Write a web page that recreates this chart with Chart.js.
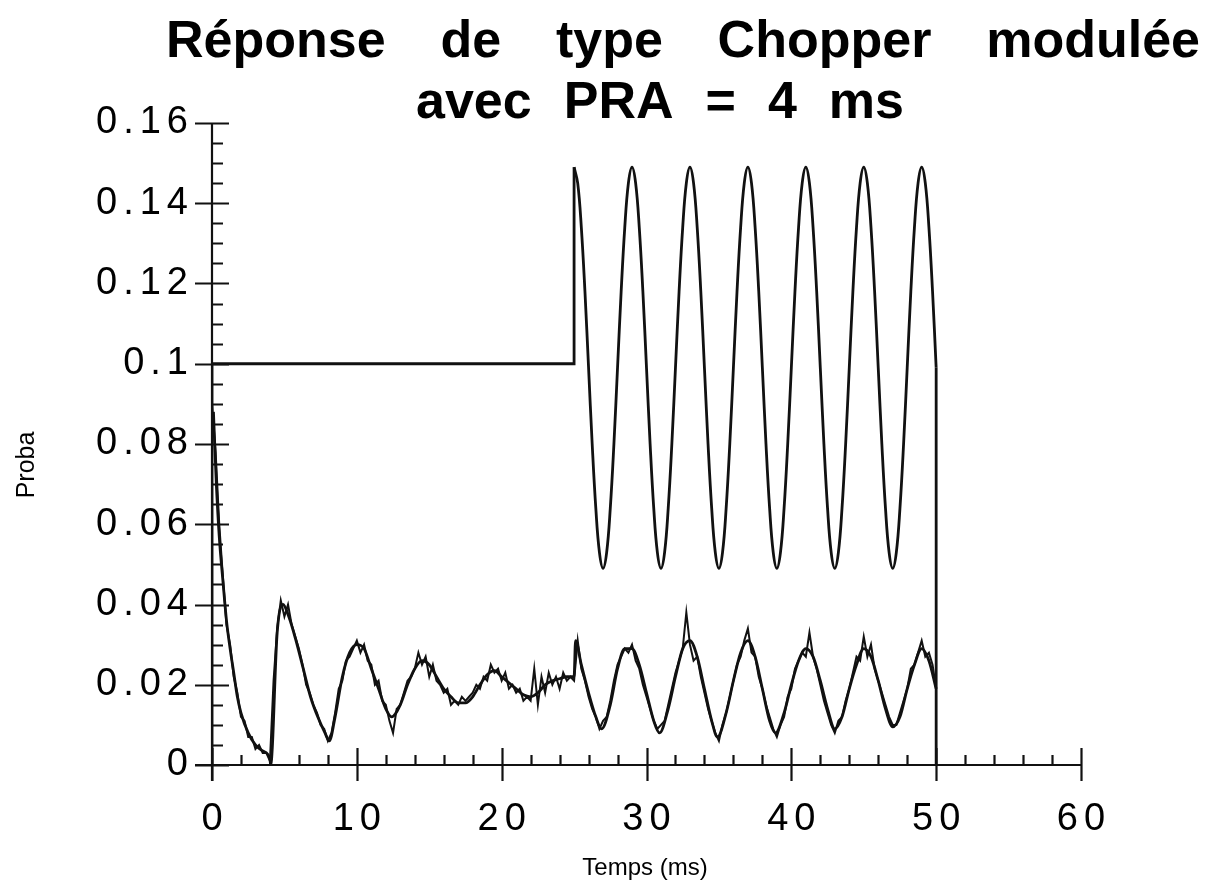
<!DOCTYPE html>
<html>
<head>
<meta charset="utf-8">
<script src="https://cdn.jsdelivr.net/npm/chart.js@4.4.1/dist/chart.umd.min.js"></script>
<style>
  body { margin: 0; background: #fff; }
  canvas { display: block; }
</style>
</head>
<body>
<canvas id="chopperChart" width="1219" height="895"></canvas>
<script>
// Titles
const titleLine1 = ['Réponse', 'de', 'type', 'Chopper', 'modulée'];
const titleLine2 = ['avec', 'PRA', '=', '4', 'ms'];
const xTitle = 'Temps (ms)';
const yTitle = 'Proba';

// Axis ranges / ticks
const xRange = [0, 60];
const yRange = [0, 0.16];
const xMajorStep = 10;
const xMinorStep = 2;
const yMajorStep = 0.02;
const yMinorStep = 0.005;

// Stimulus: flat at 0.1 up to 25 ms, then modulated (PRA = 4 ms) up to 50 ms
const stimStepTimes = [0, 0, 25, 25];
const stimStepValues = [0, 0.1, 0.1, 0.149];
const stimSampleStart = 25;
const stimSampleStep = 0.25;
const stimValues = [
  0.149, 0.145, 0.134, 0.118, 0.099, 0.080, 0.064, 0.053, 0.049, 0.053, 0.064, 0.080, 0.099, 0.118, 0.134, 0.145,
  0.149, 0.145, 0.134, 0.118, 0.099, 0.080, 0.064, 0.053, 0.049, 0.053, 0.064, 0.080, 0.099, 0.118, 0.134, 0.145,
  0.149, 0.145, 0.134, 0.118, 0.099, 0.080, 0.064, 0.053, 0.049, 0.053, 0.064, 0.080, 0.099, 0.118, 0.134, 0.145,
  0.149, 0.145, 0.134, 0.118, 0.099, 0.080, 0.064, 0.053, 0.049, 0.053, 0.064, 0.080, 0.099, 0.118, 0.134, 0.145,
  0.149, 0.145, 0.134, 0.118, 0.099, 0.080, 0.064, 0.053, 0.049, 0.053, 0.064, 0.080, 0.099, 0.118, 0.134, 0.145,
  0.149, 0.145, 0.134, 0.118, 0.099, 0.080, 0.064, 0.053, 0.049, 0.053, 0.064, 0.080, 0.099, 0.118, 0.134, 0.145,
  0.149, 0.145, 0.134, 0.118, 0.099
];
const stimEndTimes = [50, 50];
const stimEndValues = [0.099, 0];

// Measured response (noisy histogram), one bin every 0.25 ms from 0 to 50 ms
const respSampleStep = 0.25;
const respValues = [
  0.090, 0.078, 0.060, 0.047, 0.035, 0.030, 0.022, 0.018,
  0.012, 0.011, 0.007, 0.007, 0.004, 0.005, 0.003, 0.003,
  0.001, 0.021, 0.034, 0.041, 0.037, 0.040, 0.035, 0.032,
  0.029, 0.025, 0.020, 0.018, 0.015, 0.013, 0.010, 0.009,
  0.006, 0.008, 0.013, 0.019, 0.021, 0.026, 0.027, 0.029,
  0.031, 0.028, 0.030, 0.026, 0.025, 0.020, 0.021, 0.016,
  0.015, 0.011, 0.008, 0.014, 0.015, 0.018, 0.021, 0.022,
  0.024, 0.028, 0.025, 0.027, 0.022, 0.025, 0.021, 0.020,
  0.018, 0.019, 0.015, 0.016, 0.015, 0.017, 0.016, 0.017,
  0.018, 0.020, 0.019, 0.022, 0.021, 0.025, 0.023, 0.024,
  0.021, 0.023, 0.019, 0.020, 0.018, 0.019, 0.016, 0.017,
  0.016, 0.024, 0.015, 0.022, 0.018, 0.023, 0.020, 0.022,
  0.019, 0.023, 0.021, 0.022, 0.021, 0.031, 0.024, 0.021,
  0.017, 0.014, 0.012, 0.009, 0.011, 0.012, 0.016, 0.021,
  0.025, 0.027, 0.029, 0.028, 0.030, 0.026, 0.024, 0.020,
  0.017, 0.014, 0.011, 0.009, 0.010, 0.011, 0.015, 0.019,
  0.023, 0.026, 0.029, 0.038, 0.030, 0.026, 0.027, 0.022,
  0.018, 0.014, 0.011, 0.008, 0.006, 0.010, 0.013, 0.017,
  0.021, 0.025, 0.027, 0.031, 0.034, 0.028, 0.027, 0.022,
  0.019, 0.015, 0.012, 0.009, 0.007, 0.010, 0.012, 0.017,
  0.019, 0.024, 0.026, 0.028, 0.027, 0.033, 0.027, 0.024,
  0.020, 0.016, 0.013, 0.010, 0.008, 0.011, 0.012, 0.016,
  0.019, 0.023, 0.027, 0.026, 0.032, 0.027, 0.030, 0.024,
  0.021, 0.018, 0.015, 0.012, 0.010, 0.010, 0.013, 0.016,
  0.019, 0.024, 0.025, 0.028, 0.031, 0.027, 0.028, 0.025,
  0.019
];

// Fitted (smooth) response
const fitTimes = [
  0.1, 0.3, 0.5, 0.75, 1.0, 1.25, 1.5, 1.75, 2.0, 2.5, 3.0, 3.5, 4.0, 4.05,
  4.5, 4.9, 5.3, 5.8, 6.3, 6.8, 7.3, 7.8, 8.1, 8.5, 9.0, 9.5, 10.0, 10.5,
  11.0, 11.5, 12.0, 12.4, 13.0, 13.5, 14.0, 14.5, 15.0, 15.5, 16.0, 16.5,
  17.0, 17.5, 18.0, 18.5, 19.0, 19.5, 20.0, 20.5, 21.0, 21.5, 22.0, 22.5,
  23.0, 23.5, 24.0, 24.5, 25.0, 25.1, 25.5, 26.0, 26.5, 26.9, 27.5, 28.0,
  28.5, 29.0, 29.5, 30.0, 30.5, 30.9, 31.5, 32.0, 32.5, 33.0, 33.5, 34.0,
  34.5, 34.9, 35.5, 36.0, 36.5, 37.0, 37.5, 38.0, 38.5, 38.9, 39.5, 40.0,
  40.5, 41.0, 41.5, 42.0, 42.5, 43.0, 43.5, 44.0, 44.5, 45.0, 45.5, 46.0,
  46.5, 47.0, 47.5, 48.0, 48.5, 49.0, 49.5, 50.0
];
const fitValues = [
  0.088, 0.070, 0.057, 0.046, 0.036, 0.029, 0.023, 0.017, 0.013, 0.008, 0.005, 0.0035, 0.0015, 0.000,
  0.033, 0.040, 0.037, 0.031, 0.024, 0.017, 0.012, 0.008, 0.006, 0.012, 0.022, 0.028, 0.030, 0.029,
  0.024, 0.019, 0.014, 0.012, 0.015, 0.020, 0.024, 0.026, 0.025, 0.022, 0.019, 0.017,
  0.0155, 0.0155, 0.017, 0.020, 0.0225, 0.0235, 0.022, 0.0205, 0.019, 0.0175, 0.017, 0.018,
  0.020, 0.021, 0.0215, 0.022, 0.022, 0.031, 0.025, 0.018, 0.012, 0.009, 0.015, 0.024,
  0.029, 0.029, 0.025, 0.018, 0.011, 0.008, 0.014, 0.022, 0.029, 0.031, 0.027, 0.019,
  0.011, 0.007, 0.013, 0.021, 0.028, 0.031, 0.027, 0.019, 0.011, 0.008, 0.013, 0.020,
  0.026, 0.029, 0.027, 0.021, 0.014, 0.009, 0.012, 0.019, 0.025, 0.029, 0.027, 0.021,
  0.014, 0.0095, 0.012, 0.019, 0.025, 0.029, 0.026, 0.019
];

const ink = '#111';
const fontFamily = '"Liberation Sans", Arial, Helvetica, sans-serif';

function sampleTimes(start, step, count) { // time base of evenly sampled data
  const t = [];
  for (let i = 0; i < count; i++) t.push(+(start + i * step).toFixed(3));
  return t;
}

function toPoints(xs, ys) {
  return xs.map((x, i) => ({ x: x, y: ys[i] }));
}

const stimTimes = sampleTimes(stimSampleStart, stimSampleStep, stimValues.length);
const respTimes = sampleTimes(0, respSampleStep, respValues.length);

// Axes, tick marks, titles
const decorPlugin = {
  id: 'decor',
  beforeDraw(chart) {
    chart.ctx.letterSpacing = '6px'; // spaced tick digits like the original
  },
  beforeDatasetsDraw(chart) {
    chart.ctx.letterSpacing = '0px';
  },
  afterDraw(chart) {
    const ctx = chart.ctx;
    const xs = chart.scales.x;
    const ys = chart.scales.y;
    const x0 = xs.getPixelForValue(xRange[0]);
    const x1 = xs.getPixelForValue(xRange[1]);
    const y0 = ys.getPixelForValue(yRange[0]);
    const y1 = ys.getPixelForValue(yRange[1]);
    ctx.save();
    ctx.letterSpacing = '0px';
    ctx.strokeStyle = ink;
    ctx.lineWidth = 2.2;
    ctx.beginPath();
    // axis lines
    ctx.moveTo(x0, y1); ctx.lineTo(x0, y0 + 16);
    ctx.moveTo(x0 - 17, y0); ctx.lineTo(x1, y0);
    // y ticks
    for (let v = yRange[0]; v <= yRange[1] + 1e-9; v += yMinorStep) {
      const py = Math.round(ys.getPixelForValue(v)) + 0.5;
      const major = Math.abs(v / yMajorStep - Math.round(v / yMajorStep)) < 1e-6;
      if (major) { ctx.moveTo(x0 - 17, py); ctx.lineTo(x0 + 17, py); }
      else { ctx.moveTo(x0, py); ctx.lineTo(x0 + 11, py); }
    }
    // x ticks
    for (let v = xRange[0]; v <= xRange[1] + 1e-9; v += xMinorStep) {
      const px = Math.round(xs.getPixelForValue(v)) + 0.5;
      if (v % xMajorStep === 0) { ctx.moveTo(px, y0 - 17); ctx.lineTo(px, y0 + 16); }
      else { ctx.moveTo(px, y0); ctx.lineTo(px, y0 - 10); }
    }
    ctx.stroke();

    // chart title, justified lines
    ctx.fillStyle = '#000';
    ctx.font = 'bold 52px ' + fontFamily;
    ctx.textBaseline = 'alphabetic';
    ctx.textAlign = 'left';
    drawJustified(ctx, titleLine1, 166, 1200, 57);
    drawJustified(ctx, titleLine2, 416, 904, 118);

    // axis titles
    ctx.font = '24px ' + fontFamily;
    ctx.textAlign = 'center';
    ctx.fillText(xTitle, 645, 875);
    ctx.translate(34, 465);
    ctx.rotate(-Math.PI / 2);
    ctx.font = '25px ' + fontFamily;
    ctx.fillText(yTitle, 0, 0);
    ctx.restore();
  }
};

function drawJustified(ctx, words, left, right, baseline) {
  const widths = words.map(w => ctx.measureText(w).width);
  const total = widths.reduce((a, b) => a + b, 0);
  const gap = (right - left - total) / (words.length - 1);
  let x = left;
  words.forEach((w, i) => {
    ctx.fillText(w, x, baseline);
    x += widths[i] + gap;
  });
}

const chopperChart = new Chart(document.getElementById('chopperChart'), {
  type: 'line',
  data: {
    datasets: [
      {
        label: 'stimulus',
        data: toPoints(stimStepTimes, stimStepValues),
        borderColor: ink,
        borderWidth: 2.8,
        pointRadius: 0,
        tension: 0
      },
      {
        label: 'stimulus modulé',
        data: toPoints(stimTimes, stimValues),
        borderColor: ink,
        borderWidth: 2.8,
        pointRadius: 0,
        tension: 0.4
      },
      {
        label: 'stimulus fin',
        data: toPoints(stimEndTimes, stimEndValues),
        borderColor: ink,
        borderWidth: 2.8,
        pointRadius: 0,
        tension: 0
      },
      {
        label: 'réponse',
        data: toPoints(respTimes, respValues),
        borderColor: ink,
        borderWidth: 2,
        pointRadius: 0,
        tension: 0
      },
      {
        label: 'ajustement',
        data: toPoints(fitTimes, fitValues),
        borderColor: ink,
        borderWidth: 2.8,
        pointRadius: 0,
        cubicInterpolationMode: 'monotone'
      }
    ]
  },
  options: {
    responsive: false,
    animation: false,
    devicePixelRatio: 1,
    layout: { padding: { top: 123, right: 138, left: 0, bottom: 0 } },
    plugins: {
      legend: { display: false },
      tooltip: { enabled: false },
      title: { display: false }
    },
    scales: {
      x: {
        type: 'linear',
        min: xRange[0],
        max: xRange[1],
        grid: { display: false, drawTicks: false },
        border: { display: false },
        ticks: {
          stepSize: xMajorStep,
          padding: 32,
          labelOffset: 3,
          maxRotation: 0,
          autoSkip: false,
          color: '#000',
          font: { family: fontFamily, size: 38 }
        },
        afterFit: s => { s.height = 130; }
      },
      y: {
        type: 'linear',
        min: yRange[0],
        max: yRange[1],
        grid: { display: false, drawTicks: false },
        border: { display: false },
        ticks: {
          stepSize: yMajorStep,
          padding: 18,
          color: '#000',
          font: { family: fontFamily, size: 38 },
          callback: v => String(+v.toFixed(3))
        },
        afterFit: s => { s.width = 212; }
      }
    }
  },
  plugins: [decorPlugin]
});
</script>
</body>
</html>
